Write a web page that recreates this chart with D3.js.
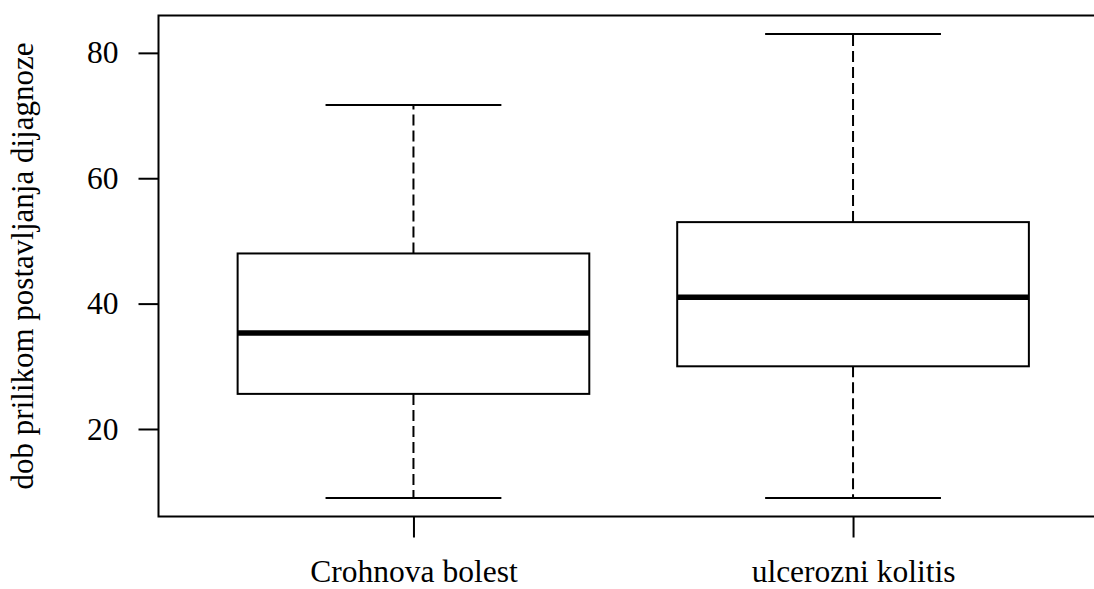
<!DOCTYPE html>
<html>
<head>
<meta charset="utf-8">
<script src="https://cdn.jsdelivr.net/npm/d3@7"></script>
<style>
  body { margin: 0; background: #fff; }
  .serif { font-family: "Liberation Serif", Tinos, "Times New Roman", "DejaVu Serif", serif; }
</style>
</head>
<body>
<div class="box_chart"></div>
<script>
const WIDTH = 1094;
const HEIGHT = 589;
const FONT = '"Liberation Serif", Tinos, "Times New Roman", "DejaVu Serif", serif';

// data
const categories = ['Crohnova bolest', 'ulcerozni kolitis'];
const whiskerLow = [9, 9];
const q1 = [25.6, 30];
const medians = [35.3, 41];
const q3 = [48, 53];
const whiskerHigh = [71.7, 83];
const yTicks = [20, 40, 60, 80];
const yLabel = 'dob prilikom postavljanja dijagnoze';

const PLOT = { left: 158.5, right: 1108, top: 15.5, bottom: 516.5 };

const svg = d3
	.select('.box_chart')
	.append('svg')
	.attr('width', WIDTH)
	.attr('height', HEIGHT);

// R style: x from 0.5 to n+0.5, y from min to max, both padded by 4%
const n = categories.length;
const xPad = n * 0.04;
const xScale = d3
	.scaleLinear()
	.domain([0.5 - xPad, n + 0.5 + xPad])
	.range([PLOT.left, PLOT.right]);

const yMin = d3.min(whiskerLow);
const yMax = d3.max(whiskerHigh);
const yPad = (yMax - yMin) * 0.04;
const yScale = d3
	.scaleLinear()
	.domain([yMin - yPad, yMax + yPad])
	.range([PLOT.bottom, PLOT.top]);

const boxHalf = 0.4;
const capHalf = 0.2;
const LW = 2;

const boxes = svg
	.selectAll('g.box')
	.data(categories)
	.enter()
	.append('g')
	.attr('class', 'box');

// dashed whiskers
boxes.append('line')
	.attr('x1', (d, i) => xScale(i + 1))
	.attr('x2', (d, i) => xScale(i + 1))
	.attr('y1', (d, i) => yScale(q3[i]))
	.attr('y2', (d, i) => yScale(whiskerHigh[i]))
	.attr('stroke', '#000')
	.attr('stroke-width', LW)
	.attr('stroke-dasharray', '11,5');

boxes.append('line')
	.attr('x1', (d, i) => xScale(i + 1))
	.attr('x2', (d, i) => xScale(i + 1))
	.attr('y1', (d, i) => yScale(q1[i]))
	.attr('y2', (d, i) => yScale(whiskerLow[i]))
	.attr('stroke', '#000')
	.attr('stroke-width', LW)
	.attr('stroke-dasharray', '11,5');

// whisker caps
[whiskerLow, whiskerHigh].forEach(arr => {
	boxes.append('line')
		.attr('x1', (d, i) => xScale(i + 1 - capHalf))
		.attr('x2', (d, i) => xScale(i + 1 + capHalf))
		.attr('y1', (d, i) => yScale(arr[i]))
		.attr('y2', (d, i) => yScale(arr[i]))
		.attr('stroke', '#000')
		.attr('stroke-width', LW);
});

// the box itself
boxes.append('rect')
	.attr('x', (d, i) => xScale(i + 1 - boxHalf))
	.attr('width', (d, i) => xScale(i + 1 + boxHalf) - xScale(i + 1 - boxHalf))
	.attr('y', (d, i) => yScale(q3[i]))
	.attr('height', (d, i) => yScale(q1[i]) - yScale(q3[i]))
	.attr('fill', 'none')
	.attr('stroke', '#000')
	.attr('stroke-width', LW);

// median
boxes.append('line')
	.attr('x1', (d, i) => xScale(i + 1 - boxHalf))
	.attr('x2', (d, i) => xScale(i + 1 + boxHalf))
	.attr('y1', (d, i) => yScale(medians[i]))
	.attr('y2', (d, i) => yScale(medians[i]))
	.attr('stroke', '#000')
	.attr('stroke-width', 5.5);

// frame
svg.append('rect')
	.attr('x', PLOT.left)
	.attr('y', PLOT.top)
	.attr('width', PLOT.right - PLOT.left)
	.attr('height', PLOT.bottom - PLOT.top)
	.attr('fill', 'none')
	.attr('stroke', '#000')
	.attr('stroke-width', LW);

// axes
const yAxis = d3.axisLeft(yScale).tickValues(yTicks).tickSize(20).tickPadding(20);
const gy = svg.append('g')
	.attr('transform', `translate(${PLOT.left}, 0)`)
	.call(yAxis)
	.attr('font-family', null)
	.attr('font-size', null)
	.attr('class', 'serif');
gy.select('.domain').remove();
gy.selectAll('line').attr('stroke-width', LW);
gy.selectAll('text')
	.attr('class', 'serif')
	.style('font-family', FONT)
	.style('font-size', '31.5px');

const xAxis = d3.axisBottom(xScale)
	.tickValues(categories.map((d, i) => i + 1))
	.tickFormat((d, i) => categories[i])
	.tickSize(21)
	.tickPadding(28);
const gx = svg.append('g')
	.attr('transform', `translate(0, ${PLOT.bottom})`)
	.call(xAxis)
	.attr('font-family', null)
	.attr('font-size', null)
	.attr('class', 'serif');
gx.select('.domain').remove();
gx.selectAll('line').attr('stroke-width', LW);
gx.selectAll('text')
	.attr('class', 'serif')
	.style('font-family', FONT)
	.style('font-size', '31.5px')
	.attr('dy', null)
	.attr('y', 65);

// y label
svg.append('text')
	.attr('class', 'serif')
	.attr('transform', `translate(33, ${(PLOT.top + PLOT.bottom) / 2}) rotate(-90)`)
	.attr('text-anchor', 'middle')
	.style('font-family', FONT)
	.style('font-size', '31px')
	.text(yLabel);
</script>
</body>
</html>
